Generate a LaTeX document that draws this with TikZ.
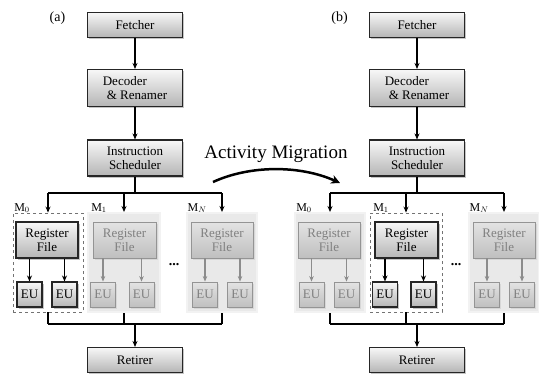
\documentclass[tikz,border=0pt]{standalone}
\usepackage{fontspec}
\setmainfont{Liberation Serif}
\usetikzlibrary{arrows.meta,shadows}
\tikzset{
  x=1pt, y=-1pt,
  txt/.style={font=\fontsize{13}{14}\selectfont, align=center, inner sep=1pt},
  blk/.style={txt, draw=black!85, line width=1.1pt, top color=gray!6, bottom color=gray!58,
    drop shadow={shadow xshift=1.8pt, shadow yshift=-1.8pt, fill=black!45}},
  rf-on/.style={blk},
  rf-off/.style={txt, draw=black!42, line width=0.9pt, top color=gray!22, bottom color=gray!50,
    text=black!50, drop shadow={shadow xshift=1.8pt, shadow yshift=-1.8pt, fill=black!22}},
  grp-on/.style={fill=white, draw=black!55, dashed, line width=0.9pt, inner sep=0pt},
  grp-off/.style={fill=gray!17, draw=gray!10, line width=2pt, inner sep=0pt},
  arr/.style={line width=1.5pt, -{Stealth[length=6pt,width=5pt]}},
  arr-on/.style={arr, black},
  arr-off/.style={line width=1.2pt, black!45, -{Stealth[length=5.5pt,width=4.5pt]}},
  bus/.style={line width=1.5pt},
  lbl/.style={font=\fontsize{14}{16}\selectfont, inner sep=0pt},
  mlbl/.style={font=\fontsize{12}{13}\selectfont, inner sep=0pt},
  stage/.style={blk, minimum width=95pt},
}
\newcommand\drawpanel[5]{%
\begin{scope}[xshift=#2pt]
  \node[lbl] (#1-lab) at (57.5,18) {#3};
  \node[stage, minimum height=25pt] (#1-fet) at (135,25) {Fetcher};
  \node[stage, minimum height=37pt, align=left] (#1-dec) at (135,88) {Decoder\\\hspace*{4pt}\& Renamer};
  \node[stage, minimum height=36pt] (#1-sch) at (135,158) {Instruction\\Scheduler};
  \node[stage, minimum height=25pt] (#1-ret) at (135,360) {Retirer};
  \draw[arr] (#1-fet) -- (#1-dec);
  \draw[arr] (#1-dec) -- (#1-sch);
  % modules
  \node[grp-#4, minimum width=70pt, minimum height=99pt] (#1-g0) at (48,262.5) {};
  \node[grp-#5, minimum width=72pt, minimum height=99pt] (#1-g1) at (124,262.5) {};
  \node[grp-off, minimum width=70pt, minimum height=99pt] (#1-g2) at (222,262.5) {};
  \node[mlbl] (#1-m0) at (22,208) {M$_0$};
  \node[mlbl] (#1-m1) at (99,208) {M$_1$};
  \node[mlbl] (#1-m2) at (197,208) {M$_N$};
  \node[rf-#4, minimum width=62pt, minimum height=36pt] (#1-r0) at (47,240) {Register\\File};
  \node[rf-#5, minimum width=63pt, minimum height=36pt] (#1-r1) at (124.5,240) {Register\\File};
  \node[rf-off, minimum width=62pt, minimum height=36pt] (#1-r2) at (222,240) {Register\\File};
  \foreach \g/\xa/\xb/\s in {0/29.5/64.5/#4, 1/103/141.5/#5, 2/205/240/off}{
    \node[rf-\s, minimum width=25pt, minimum height=25pt, inner sep=0pt] (#1-e\g0) at (\xa,294.5) {EU};
    \node[rf-\s, minimum width=25pt, minimum height=25pt, inner sep=0pt] (#1-e\g1) at (\xb,294.5) {EU};
    \draw[arr-\s] (#1-r\g.south -| #1-e\g0.north) -- (#1-e\g0.north);
    \draw[arr-\s] (#1-r\g.south -| #1-e\g1.north) -- (#1-e\g1.north);
  }
  \node[font=\fontsize{14}{14}\selectfont\bfseries, inner sep=0pt] (#1-dots) at (174,265) {...};
  % top bus
  \coordinate (#1-bl) at (48,193);
  \coordinate (#1-bm) at (124,193);
  \coordinate (#1-br) at (222,193);
  \coordinate (#1-bc) at (135,193);
  \draw[bus] (#1-sch.south) -- (#1-bc);
  \draw[bus] (#1-bl) -- (#1-br);
  \draw[arr] (#1-bl) -- (#1-g0.north);
  \draw[arr] (#1-bm) -- (#1-g1.north);
  \draw[arr] (#1-br) -- (#1-g2.north);
  % bottom bus
  \coordinate (#1-dl) at (48,324);
  \coordinate (#1-dm) at (124,324);
  \coordinate (#1-dr) at (222,324);
  \coordinate (#1-dc) at (135,324);
  \draw[bus] (#1-g0.south) -- (#1-dl);
  \draw[bus] (#1-g1.south) -- (#1-dm);
  \draw[bus] (#1-g2.south) -- (#1-dr);
  \draw[bus] (#1-dl) -- (#1-dr);
  \draw[arr] (#1-dc) -- (#1-ret);
\end{scope}}
\begin{document}
\begin{tikzpicture}
  \useasboundingbox[fill=white] (0,0) rectangle (539,376);
  \drawpanel{a}{0}{(a)}{on}{off}
  \drawpanel{b}{282}{(b)}{off}{on}
  \node[font=\fontsize{19}{21}\selectfont, inner sep=0pt] (mig) at (276,154) {Activity Migration};
  \coordinate (ms) at (213,182);
  \coordinate (me) at (340,183);
  \draw[line width=2.5pt, -{Stealth[length=9pt,width=9pt]}] (ms) .. controls (250,165) and (300,165) .. (me);
\end{tikzpicture}
\end{document}
